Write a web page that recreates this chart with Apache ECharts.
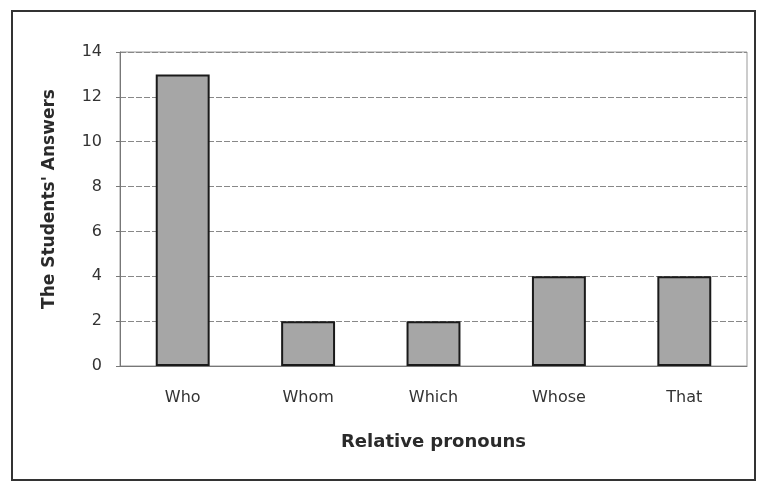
<!DOCTYPE html>
<html>
<head>
<meta charset="utf-8">
<script src="https://cdn.jsdelivr.net/npm/echarts@6/dist/echarts.min.js"></script>
<style>
  html, body { margin: 0; padding: 0; background: #fff; }
  #chart { width: 757px; height: 481px; }
</style>
</head>
<body>
<div id="chart"></div>
<script>
  var categories = ['Who', 'Whom', 'Which', 'Whose', 'That'];
  var answers = [13, 2, 2, 4, 4];
  var yTicks = [0, 2, 4, 6, 8, 10, 12, 14];

  var chart = echarts.init(document.getElementById('chart'));
  chart.setOption({
    animation: false,
    backgroundColor: '#fff',
    textStyle: { fontFamily: '"DejaVu Sans", sans-serif' },
    graphic: [
      {
        type: 'rect',
        shape: { x: 12, y: 11, width: 743, height: 469 },
        style: { fill: 'none', stroke: '#333', lineWidth: 2 }
      }
    ],
    grid: {
      left: 120,
      right: 10,
      top: 52,
      bottom: 115,
      show: true,
      borderColor: '#999',
      borderWidth: 1
    },
    xAxis: {
      type: 'category',
      data: categories,
      name: 'Relative pronouns',
      nameLocation: 'middle',
      nameGap: 67,
      nameTextStyle: { fontSize: 18, color: '#2a2a2a', fontWeight: 'bold' },
      axisLine: { lineStyle: { color: '#777', width: 1 } },
      axisTick: { show: false },
      axisLabel: { fontSize: 16, color: '#333', margin: 24 }
    },
    yAxis: {
      type: 'value',
      min: yTicks[0],
      max: yTicks[yTicks.length - 1],
      interval: 2,
      name: "The Students' Answers",
      nameLocation: 'middle',
      nameGap: 62,
      nameTextStyle: { fontSize: 17, color: '#2a2a2a', fontWeight: 'bold', padding: [0, 0, 0, 20] },
      axisLine: { show: true, lineStyle: { color: '#777' } },
      axisTick: { show: true, length: 4, lineStyle: { color: '#777' } },
      axisLabel: { fontSize: 16, color: '#333', margin: 18 },
      splitLine: { lineStyle: { color: '#888', width: 1, type: [6, 2] } }
    },
    series: [
      {
        type: 'bar',
        data: answers,
        barWidth: '43%',
        itemStyle: { color: '#a6a6a6', borderColor: '#1a1a1a', borderWidth: 2 }
      }
    ]
  });
</script>
</body>
</html>
